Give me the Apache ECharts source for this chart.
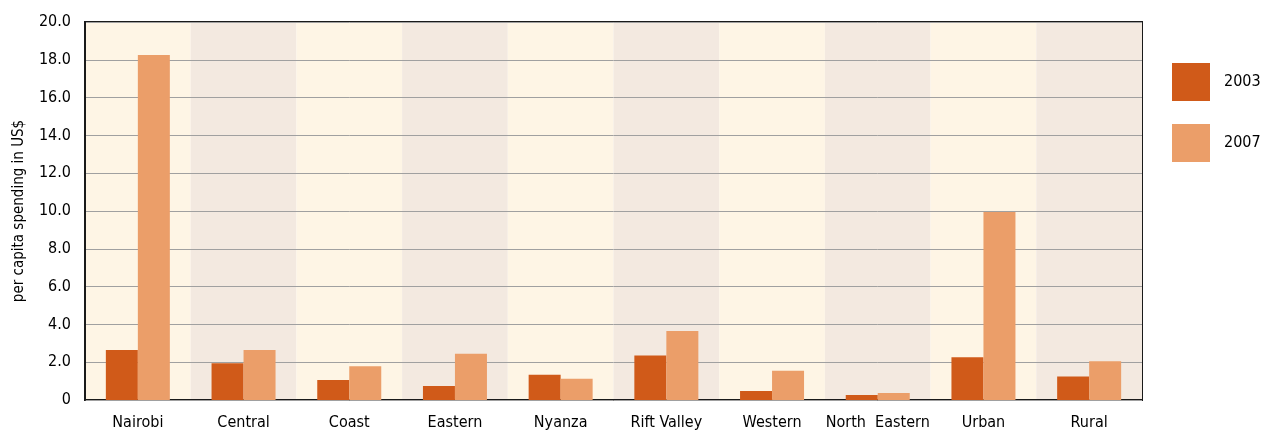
<!DOCTYPE html>
<html>
<head>
<meta charset="utf-8">
<script src="https://cdn.jsdelivr.net/npm/echarts@6/dist/echarts.min.js"></script>
<style>
  html, body { margin: 0; padding: 0; background: #fff; }
  #chart { width: 1267px; height: 433px; }
</style>
</head>
<body>
<div id="chart"></div>
<script>
var regions = ['Nairobi', 'Central', 'Coast', 'Eastern', 'Nyanza', 'Rift Valley', 'Western', 'North  Eastern', 'Urban', 'Rural']
var spend2003 = [2.65, 1.94, 1.06, 0.74, 1.34, 2.35, 0.48, 0.26, 2.26, 1.25]
var spend2007 = [18.25, 2.65, 1.78, 2.45, 1.13, 3.65, 1.55, 0.37, 9.95, 2.05]

var font = "'Liberation Sans Narrow', 'DejaVu Sans Condensed', sans-serif"

var chart = echarts.init(document.getElementById('chart'))
chart.setOption({
  animation: false,
  textStyle: { fontFamily: font },
  legend: {
    orient: 'vertical',
    left: 1172,
    top: 63,
    padding: 0,
    itemWidth: 38,
    itemHeight: 38,
    itemGap: 23,
    icon: 'rect',
    textStyle: { fontSize: 16, color: '#000', fontFamily: font, padding: [0, 0, 0, 9] },
    data: ['2003', '2007']
  },
  grid: {
    left: 85,
    right: 125,
    top: 22,
    bottom: 33,
    show: true,
    borderColor: '#1a1a1a',
    borderWidth: 2,
    backgroundColor: 'transparent'
  },
  xAxis: {
    type: 'category',
    data: regions,
    z: 0,
    axisTick: { show: false, interval: 0 },
    axisLine: { lineStyle: { color: '#1a1a1a', width: 2 } },
    axisLabel: { interval: 0, color: '#000', fontSize: 16, margin: 15, fontFamily: font },
    splitArea: { show: true, interval: 0, areaStyle: { color: ['#fef5e5', '#f3e9e0'] } }
  },
  yAxis: {
    type: 'value',
    z: 2,
    min: 0,
    max: 20,
    interval: 2,
    name: 'per capita spending in US$',
    nameLocation: 'middle',
    nameGap: 58,
    nameTextStyle: { fontSize: 15, color: '#000', fontFamily: font },
    axisLine: { show: true, lineStyle: { color: '#1a1a1a', width: 2 } },
    axisTick: { show: false },
    axisLabel: {
      color: '#000',
      fontSize: 16,
      margin: 14,
      fontFamily: font,
      formatter: function (v) { return v === 0 ? '0' : v.toFixed(1) }
    },
    splitLine: { lineStyle: { color: '#a0a0a0', width: 1 } }
  },
  series: [
    {
      name: '2003',
      type: 'bar',
      z: 3,
      data: spend2003,
      barWidth: 32,
      barGap: '0%',
      itemStyle: { color: '#d05a19' }
    },
    {
      name: '2007',
      type: 'bar',
      z: 3,
      data: spend2007,
      barWidth: 32,
      barGap: '0%',
      itemStyle: { color: '#eb9e69' }
    }
  ]
})
</script>
</body>
</html>
